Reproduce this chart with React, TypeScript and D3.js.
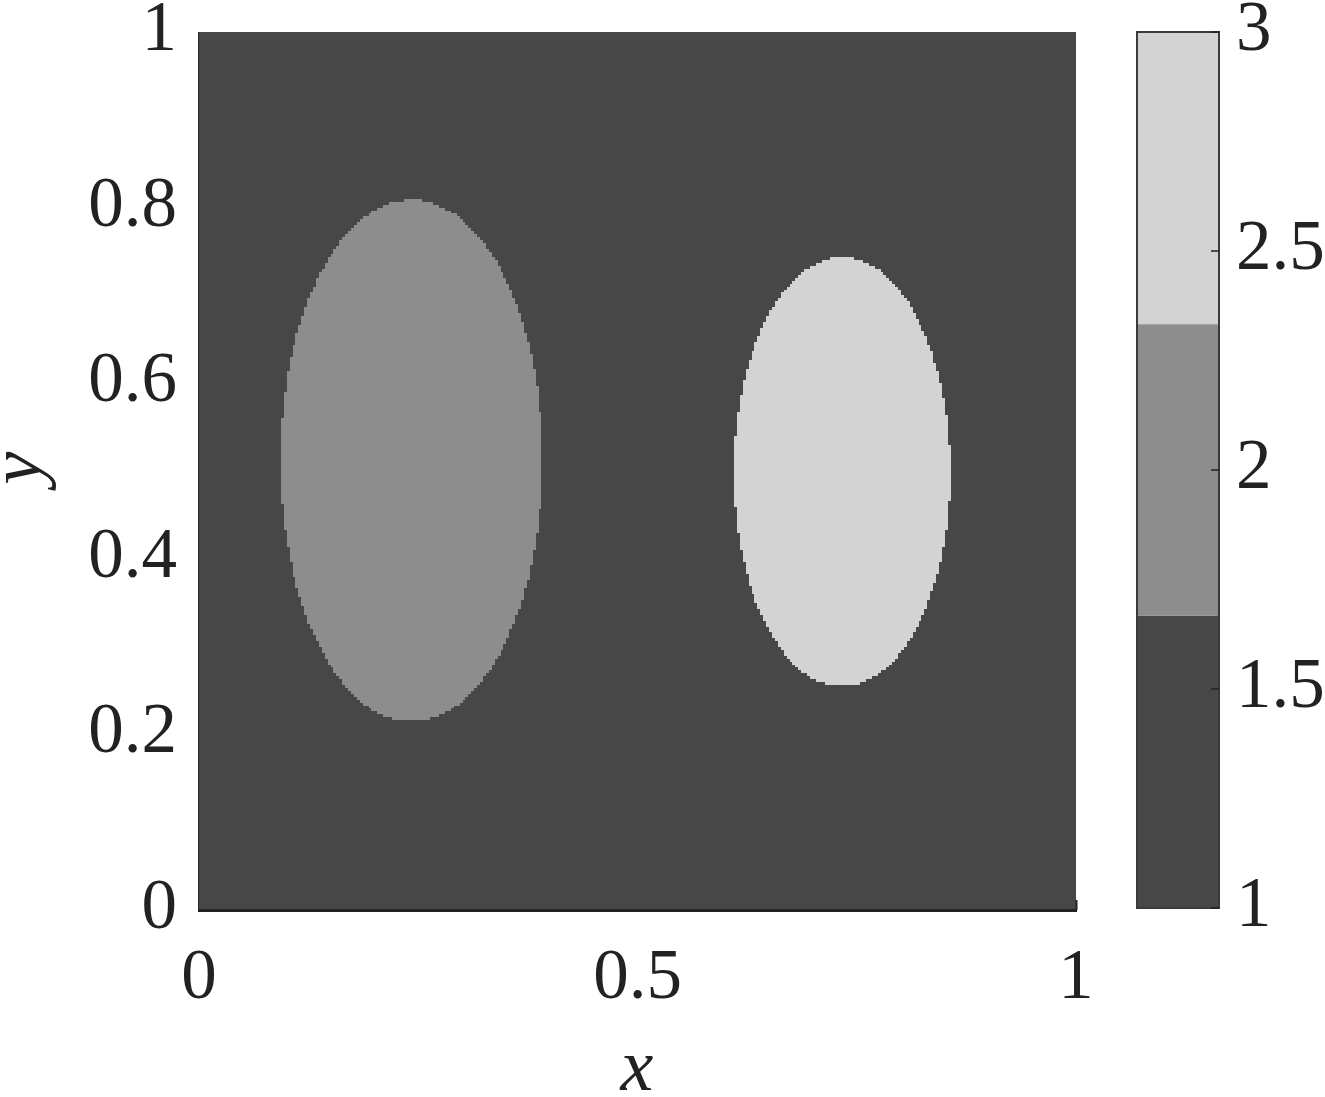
import React from "react";
import * as d3 from "d3";

// ---- data ----
const gridSize = 300; // cells per side of the field
const backgroundValue = 1;
const ellipseCx = [0.242, 0.733];
const ellipseCy = [0.512, 0.499];
const ellipseRx = [0.149, 0.123];
const ellipseRy = [0.297, 0.244];
const ellipseValue = [2, 3];

const xTicks = [0, 0.5, 1];
const xTickLabels = ["0", "0.5", "1"];
const yTicks = [0, 0.2, 0.4, 0.6, 0.8, 1];
const yTickLabels = ["0", "0.2", "0.4", "0.6", "0.8", "1"];
const cbTicks = [1, 1.5, 2, 2.5, 3];
const cbTickLabels = ["1", "1.5", "2", "2.5", "3"];
const cbLevels = [1, 1.667, 2.333, 3];
const cbColors = ["#474747", "#8d8d8d", "#d3d3d3"];

const W = 1325;
const H = 1097;
const FONT = "'Liberation Serif', 'Times New Roman', serif";

export default function App() {
  const x = d3.scaleLinear().domain([0, 1]).range([199, 1076]);
  const y = d3.scaleLinear().domain([0, 1]).range([910, 32]);
  const cb = d3.scaleLinear().domain([1, 3]).range([908, 32]);
  const color = d3
    .scaleThreshold<number, string>()
    .domain(cbLevels.slice(1, -1))
    .range(cbColors);

  // rasterise field rows into horizontal runs
  const step = 1 / gridSize;
  const runs: { x0: number; x1: number; y0: number; v: number }[] = [];
  for (let j = 0; j < gridSize; j++) {
    const yc = (j + 0.5) * step;
    ellipseCx.forEach((cx, k) => {
      let start = -1;
      for (let i = 0; i <= gridSize; i++) {
        const xc = (i + 0.5) * step;
        const inside =
          i < gridSize &&
          ((xc - cx) / ellipseRx[k]) ** 2 + ((yc - ellipseCy[k]) / ellipseRy[k]) ** 2 <= 1;
        if (inside && start < 0) start = i;
        if (!inside && start >= 0) {
          runs.push({ x0: start * step, x1: i * step, y0: j * step, v: ellipseValue[k] });
          start = -1;
        }
      }
    });
  }

  const fs = 71;

  return (
    <svg
      width={W}
      height={H}
      style={{ position: "absolute", left: 0, top: 0, background: "#fff" }}
      fontFamily={FONT}
    >
      {/* field background */}
      <rect
        x={x(0)}
        y={y(1)}
        width={x(1) - x(0)}
        height={y(0) - y(1)}
        fill={color(backgroundValue)}
      />
      <g shapeRendering="crispEdges">
        {runs.map((r, i) => (
          <rect
            key={i}
            x={x(r.x0)}
            y={y(r.y0 + step)}
            width={x(r.x1) - x(r.x0) + 0.4}
            height={y(r.y0) - y(r.y0 + step) + 0.4}
            fill={color(r.v)}
          />
        ))}
      </g>
      {/* axes */}
      <line x1={x(0) - 0.5} x2={x(0) - 0.5} y1={y(1)} y2={y(0)} stroke="#2a2a2a" strokeWidth={1} />
      <line x1={x(0) - 1} x2={x(1) + 1} y1={y(0) + 0.5} y2={y(0) + 0.5} stroke="#222" strokeWidth={3} />
      <line x1={x(1) + 0.5} x2={x(1) + 0.5} y1={y(0) - 10} y2={y(0)} stroke="#222" strokeWidth={2} />

      {xTicks.map((t, i) => (
        <text key={t} x={x(t)} y={998} fontSize={fs} textAnchor="middle" fill="#222">
          {xTickLabels[i]}
        </text>
      ))}
      {yTicks.map((t, i) => (
        <text key={t} x={177} y={y(t) + 18} fontSize={fs} textAnchor="end" fill="#222">
          {yTickLabels[i]}
        </text>
      ))}
      <text x={637} y={1090} fontSize={74} fontStyle="italic" textAnchor="middle" fill="#222">
        x
      </text>
      <text
        transform={`translate(40,468) rotate(-90)`}
        fontSize={74}
        fontStyle="italic"
        textAnchor="middle"
        fill="#222"
      >
        y
      </text>

      {/* colorbar */}
      {cbColors.map((c, i) => (
        <rect
          key={c}
          x={1137}
          y={cb(cbLevels[i + 1])}
          width={82}
          height={cb(cbLevels[i]) - cb(cbLevels[i + 1])}
          fill={c}
        />
      ))}
      <rect x={1137} y={cb(3)} width={82} height={cb(1) - cb(3)} fill="none" stroke="#3a3a3a" strokeWidth={2} />
      {cbTicks.map((t) => (
        <line key={t} x1={1211} x2={1219} y1={cb(t)} y2={cb(t)} stroke="#222" strokeWidth={1.5} />
      ))}
      {cbTicks.map((t, i) => (
        <text key={t} x={1236} y={cb(t) + 18} fontSize={fs} textAnchor="start" fill="#222">
          {cbTickLabels[i]}
        </text>
      ))}
    </svg>
  );
}
